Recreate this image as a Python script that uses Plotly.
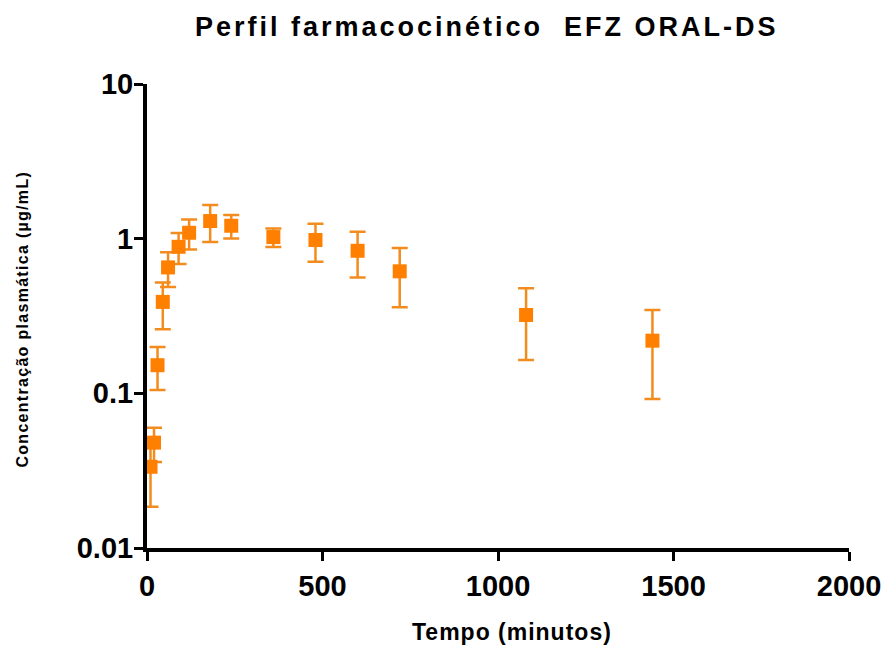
import plotly.graph_objects as go

time_min = [10, 20, 30, 45, 60, 90, 120, 180, 240, 360, 480, 600, 720, 1080, 1440]
conc = [0.0335, 0.048, 0.152, 0.39, 0.652, 0.886, 1.092, 1.30, 1.212, 1.024, 0.98, 0.835, 0.615, 0.321, 0.219]
sd = [0.015, 0.012, 0.047, 0.13, 0.165, 0.20, 0.24, 0.35, 0.21, 0.14, 0.27, 0.275, 0.255, 0.157, 0.127]

y_tickvals = [0.01, 0.1, 1, 10]
y_ticktext = ["0.01", "0.1", "1", "10"]
x_tickvals = [0, 500, 1000, 1500, 2000]
x_ticktext = ["0", "500", "1000", "1500", "2000"]

title_text = "Perfil farmacocinético  EFZ ORAL-DS"
x_title = "Tempo (minutos)"
y_title = "Concentração plasmática (µg/mL)"

FONT = "Liberation Sans, Arial, sans-serif"
ORANGE = "#FF8000"
ERR = "#F28C1E"

L, R, T, B = 147, 35, 84, 101
W, H = 893, 649
PW, PH = W - L - R, H - T - B


def px(xp):
    return (xp - L) / PW


def py(yp):
    return (H - B - yp) / PH


fig = go.Figure()
fig.add_trace(go.Scatter(
    x=time_min, y=conc, mode="markers",
    marker=dict(symbol="square", size=14, color=ORANGE),
    error_y=dict(type="data", array=sd, visible=True, color=ERR, thickness=2.5, width=8),
    showlegend=False,
))

fig.update_layout(
    width=W, height=H,
    margin=dict(l=L, r=R, t=T, b=B),
    plot_bgcolor="white", paper_bgcolor="white",
    font=dict(family=FONT, color="black"),
)

fig.add_annotation(text=f"<span style='letter-spacing:3px'><b>{title_text}</b></span>",
                   xref="paper", yref="paper", x=px(491), y=py(27),
                   xanchor="center", yanchor="middle", showarrow=False, font=dict(size=27, family=FONT))
fig.add_annotation(text=f"<span style='letter-spacing:1px'><b>{x_title}</b></span>",
                   xref="paper", yref="paper", x=px(517), y=py(632),
                   xanchor="center", yanchor="middle", showarrow=False, font=dict(size=23, family=FONT))
fig.add_annotation(text=f"<span style='letter-spacing:1.3px'><b>{y_title}</b></span>",
                   xref="paper", yref="paper", x=px(20), y=py(319),
                   xanchor="center", yanchor="middle", textangle=-90, showarrow=False,
                   font=dict(size=16, family=FONT))

fig.update_xaxes(range=[0, 2000], tickvals=x_tickvals, ticktext=x_ticktext,
                 showgrid=False, zeroline=False, showline=True, linecolor="black", linewidth=4,
                 ticks="outside", ticklen=9, tickwidth=3, tickcolor="black",
                 tickfont=dict(size=29, family=FONT, weight="bold"))
fig.update_yaxes(type="log", range=[-2, 1], tickvals=y_tickvals, ticktext=y_ticktext,
                 showgrid=False, zeroline=False, showline=True, linecolor="black", linewidth=4,
                 ticks="outside", ticklen=9, tickwidth=3, tickcolor="black", ticklabelstandoff=-5,
                 tickfont=dict(size=29, family=FONT, weight="bold"))

fig.write_html("out.html")
